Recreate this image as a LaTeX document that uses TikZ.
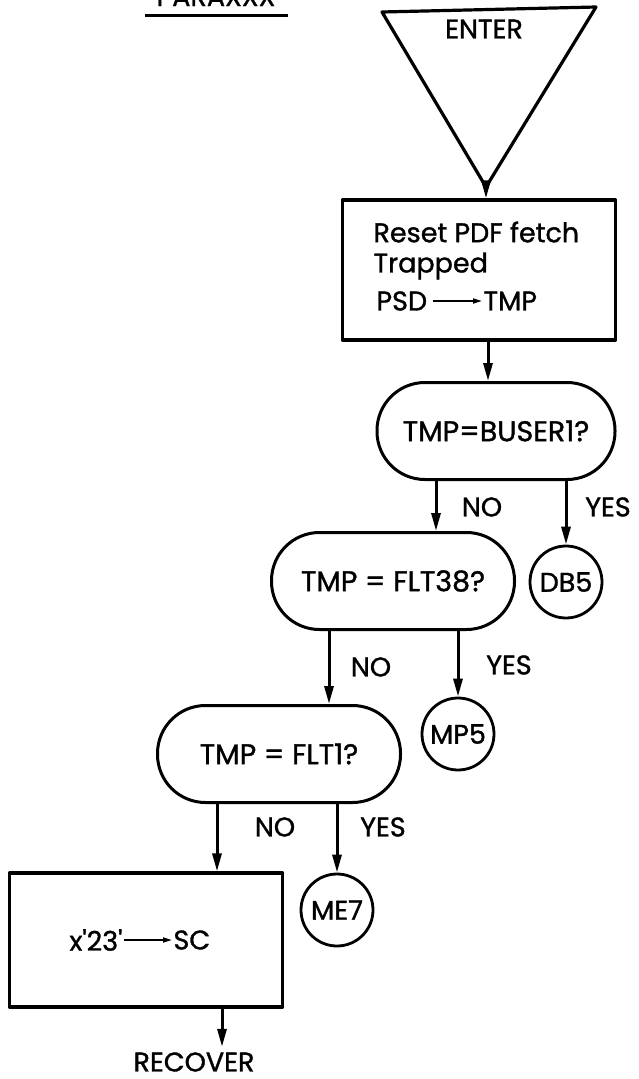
\documentclass[tikz,border=0pt]{standalone}
\usepackage{fontspec}
\setmainfont{Poppins}[FakeBold=1.2, Ligatures=TeXOff]
\usetikzlibrary{arrows.meta,calc}
\begin{document}
\begin{tikzpicture}[x=1pt,y=-1pt,
  line width=3pt, line join=round,
  fnt/.style={font=\fontsize{27}{30}\selectfont},
  txt/.style={fnt, inner sep=0pt, anchor=center},
  lbl/.style={fnt, inner sep=0pt},
  procbox/.style={draw, rectangle, line width=3.2pt, inner sep=0pt},
  term/.style={draw, rectangle, rounded corners=48pt, minimum height=97pt, inner sep=0pt, line width=3pt, font=\fontsize{28.5}{30}\selectfont},
  conn/.style={draw, circle, minimum size=72pt, inner sep=0pt, line width=2.8pt, fnt},
  arr/.style={-{Triangle[length=18pt,width=9pt]}, line width=3pt},
  thinarr/.style={-{Triangle[length=9pt,width=5pt]}, line width=1.8pt}
]
\useasboundingbox (0,0) rectangle (639,1079);
% title (cut off at top edge, as in the reference)
\node[lbl, anchor=base] (title) at (216,6) {PARAXXX};
\draw[line width=3pt] (145,15) -- (288,15);
% ENTER triangle
\coordinate (t1) at (382,12);
\coordinate (t2) at (596,7);
\coordinate (tv) at (486,187);
\draw[line width=3.2pt] (t1) -- (t2) -- (tv) -- cycle;
\node[txt] (enter) at (484,29) {ENTER};
% first box
\node[procbox, minimum width=273pt, minimum height=140pt] (box1) at (479,270) {};
\node[lbl, anchor=west] (l1) at (372,232) {Reset PDF fetch};
\node[lbl, anchor=west] (l2) at (372,266) {Trapped};
\node[lbl, anchor=west] (psd) at (375,301) {PSD};
\node[lbl, anchor=west] (tmp) at (482,301) {TMP};
\draw[thinarr] (psd.east) ++(4,0) coordinate (pa) -- (tmp.west);
\draw[arr] (tv) -- (tv |- box1.north);
% decisions
\node[term, minimum width=238pt] (d1) at (496,431) {TMP=BUSER1?};
\node[term, minimum width=243pt] (d2) at (393,581) {TMP = FLT38?};
\node[term, minimum width=243pt] (d3) at (279,754) {TMP = FLT1?};
% connectors
\node[conn] (db5) at (566,582) {DB5};
\node[conn] (mp5) at (458,734) {MP5};
\node[conn] (me7) at (337,910) {ME7};
% second box
\node[procbox, minimum width=273pt, minimum height=134pt] (box2) at (146,940) {};
\node[lbl, anchor=west] (x23) at (68,940) {x'23'};
\node[lbl, anchor=west] (sc) at (172,940) {SC};
\draw[thinarr] (x23.east) -- (sc.west);
\node[lbl] (recover) at (194,1062) {RECOVER};
% helper x positions
\coordinate (xa) at (488,0);
\coordinate (xb) at (436,0);
\coordinate (xc) at (329,0);
\coordinate (xd) at (217,0);
\coordinate (xe) at (222,0);
% arrows
\draw[arr] (box1.south -| xa) -- (d1.north -| xa);
\draw[arr] (d1.south -| xb) -- (d2.north -| xb);
\draw[arr] (d1.south -| db5) -- (db5.north);
\draw[arr] (d2.south -| xc) -- (d3.north -| xc);
\draw[arr] (d2.south -| mp5) -- (mp5.north);
\draw[arr] (d3.south -| xd) -- (box2.north -| xd);
\draw[arr] (d3.south -| me7) -- (me7.north);
\draw[arr] (box2.south -| xe) -- ($(recover.north -| xe)+(0,-4)$);
% labels
\node[lbl] (no1) at (482,507) {NO};
\node[lbl] (yes1) at (608,507) {YES};
\node[lbl] (no2) at (371,667) {NO};
\node[lbl] (yes2) at (509,665) {YES};
\node[lbl] (no3) at (275,827) {NO};
\node[lbl] (yes3) at (383,827) {YES};
\end{tikzpicture}
\end{document}
